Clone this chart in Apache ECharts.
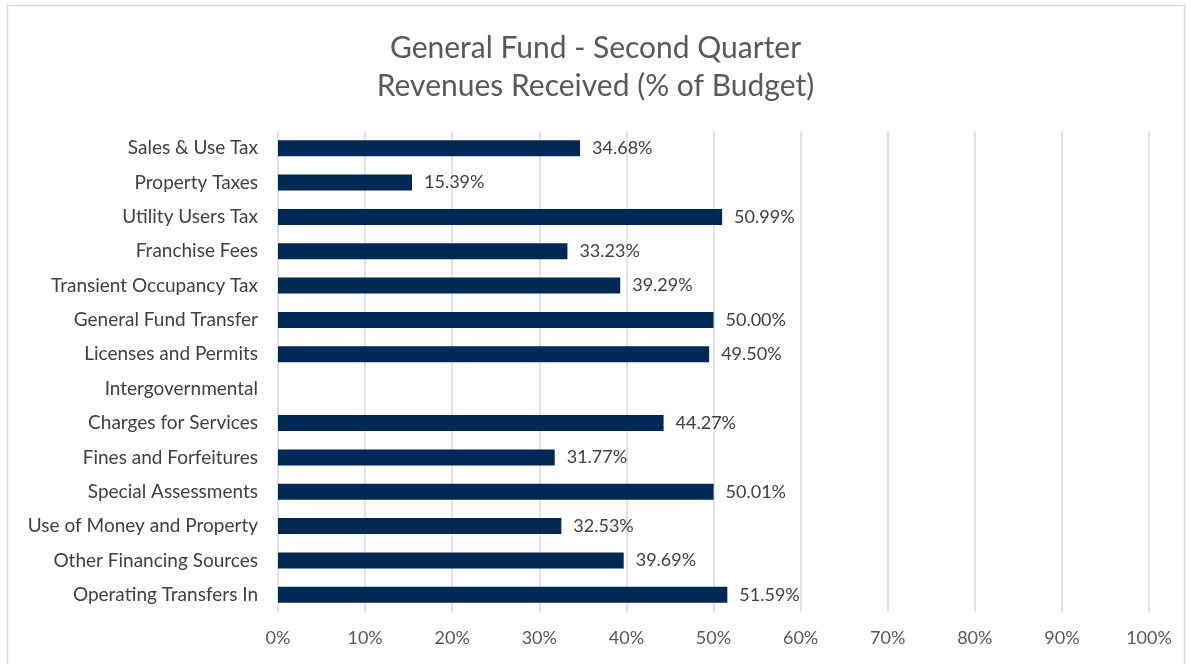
<!DOCTYPE html>
<html>
<head>
<meta charset="utf-8">
<script src="https://cdn.jsdelivr.net/npm/echarts@6/dist/echarts.min.js"></script>
<style>
  html, body { margin: 0; padding: 0; background: #fff; }
  #chart { width: 1191px; height: 664px; }
</style>
</head>
<body>
<div id="chart"></div>
<script>
// categories top to bottom as in the picture
const categories = [
  'Sales & Use Tax',
  'Property Taxes',
  'Utility Users Tax',
  'Franchise Fees',
  'Transient Occupancy Tax',
  'General Fund Transfer',
  'Licenses and Permits',
  'Intergovernmental',
  'Charges for Services',
  'Fines and Forfeitures',
  'Special Assessments',
  'Use of Money and Property',
  'Other Financing Sources',
  'Operating Transfers In'
]
const pctReceived = [34.68, 15.39, 50.99, 33.23, 39.29, 50.00, 49.50, null, 44.27, 31.77, 50.01, 32.53, 39.69, 51.59]

const fontFam = 'Lato, "Open Sans", sans-serif'

const chart = echarts.init(document.getElementById('chart'))
const option = {
  animation: false,
  title: {
    text: 'General Fund - Second Quarter\nRevenues Received (% of Budget)',
    left: 'center',
    top: 24,
    textStyle: {
      fontFamily: fontFam,
      fontWeight: 'normal',
      fontSize: 30,
      lineHeight: 38,
      color: '#595959'
    }
  },
  graphic: [{
    type: 'rect',
    shape: { x: 7.5, y: 5.5, width: 1177, height: 700 },
    style: { fill: 'none', stroke: '#d9d9d9', lineWidth: 1.5 },
    silent: true
  }],
  grid: { left: 278, right: 42, top: 131, bottom: 52 },
  xAxis: {
    type: 'value',
    min: 0,
    max: 100,
    interval: 10,
    axisLine: { show: false },
    axisTick: { show: false },
    axisLabel: {
      formatter: '{value}%',
      color: '#595959',
      fontFamily: fontFam,
      fontSize: 18,
      margin: 17
    },
    splitLine: { lineStyle: { color: '#d9d9d9', width: 1.5 } }
  },
  yAxis: {
    type: 'category',
    inverse: true,
    data: categories,
    axisLine: { show: false },
    axisTick: { show: false },
    axisLabel: {
      color: '#404040',
      fontFamily: fontFam,
      fontSize: 19,
      margin: 20
    }
  },
  series: [{
    type: 'bar',
    data: pctReceived,
    barWidth: 16,
    itemStyle: { color: '#002855' },
    label: {
      show: true,
      position: 'right',
      distance: 12,
      formatter: p => p.value == null ? '' : p.value.toFixed(2) + '%',
      color: '#404040',
      fontFamily: fontFam,
      fontSize: 18
    }
  }]
}
chart.setOption(option)
</script>
</body>
</html>
